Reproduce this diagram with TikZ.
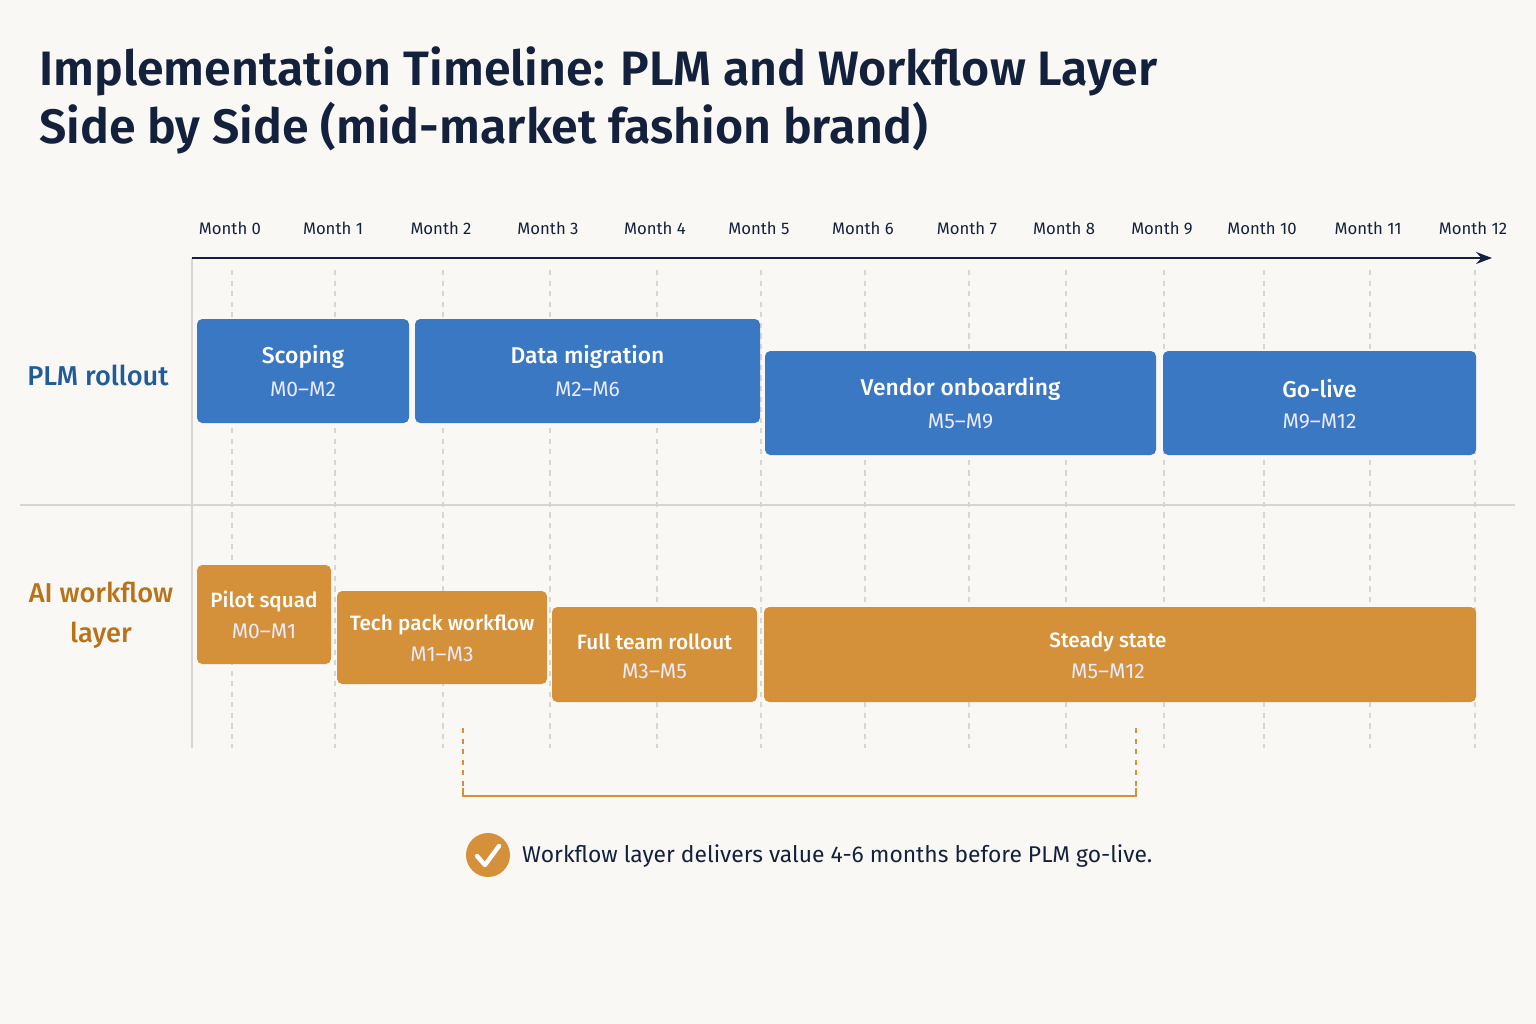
\documentclass[tikz,border=0pt]{standalone}
\usepackage{fontspec}
\setmainfont{Fira Sans}[BoldFont={Fira Sans Medium}]
\newfontfamily\titlefont{Fira Sans SemiBold}
\usetikzlibrary{arrows.meta}
\definecolor{bg}{HTML}{FAF8F4}
\definecolor{navy}{HTML}{14213D}
\definecolor{blu}{HTML}{3A78C4}
\definecolor{blulab}{HTML}{1F5C99}
\definecolor{org}{HTML}{D4913A}
\definecolor{orglab}{HTML}{B8731A}
\definecolor{grid}{HTML}{D8D6D2}
\tikzset{
 x=0.02cm,y=-0.02cm,
 ttl/.style={text=white,font=\fontsize{13}{16}\selectfont\bfseries},
 ttlo/.style={text=white,font=\fontsize{11.8}{14}\selectfont\bfseries},
 sub/.style={text=white!92!blue,font=\fontsize{12}{14}\selectfont},
 mon/.style={font=\fontsize{9.5}{11}\selectfont,text=navy},
}
\begin{document}
\begin{tikzpicture}
\fill[bg] (0,0) rectangle (1536,1024);
\useasboundingbox (0,0) rectangle (1536,1024);
\node[anchor=north west,align=left,text=navy,font=\fontsize{27.5}{33.5}\selectfont\titlefont] (title) at (33,40) {Implementation Timeline: PLM and Workflow Layer\\Side by Side (mid-market fashion brand)};
\foreach \x/\n in {230/0,333/1,441/2,548/3,655/4,759/5,863/6,967/7,1064/8,1162/9,1262/10,1368/11,1473/12}{
 \node[mon] (m\n) at (\x,228) {Month \n};
 \draw[grid,dashed,line width=0.6pt] (\x+2,270) -- (\x+2,748);
}
\draw[grid,line width=0.8pt] (192,258) -- (192,748);
\draw[grid,line width=0.8pt] (20,505) -- (1515,505);
\draw[navy,line width=1.2pt,-{Stealth[length=9pt]}] (192,258) -- (1492,258);
\node[text=blulab,font=\fontsize{15.5}{19}\selectfont\bfseries] (plm) at (98,375) {PLM rollout};
\node[text=orglab,font=\fontsize{15.5}{23}\selectfont\bfseries,align=center] (ai) at (101,615) {AI workflow\\layer};
\foreach \a/\b/\c/\d/\t/\s/\nm in {197/409/319/423/Scoping/M0–M2/p1,415/760/319/423/Data migration/M2–M6/p2,765/1156/351/455/Vendor onboarding/M5–M9/p3,1163/1476/351/455/Go-live/M9–M12/p4}{
 \fill[blu,rounded corners=3pt] (\a,\c) rectangle (\b,\d);
 \node[ttl] (\nm t) at ({(\a+\b)/2},{(\c+\d)/2-14}) {\t};
 \node[sub] (\nm s) at ({(\a+\b)/2},{(\c+\d)/2+18}) {\s};
}
\foreach \a/\b/\c/\d/\t/\s/\nm in {197/331/565/664/Pilot squad/M0–M1/a1,337/547/591/684/Tech pack workflow/M1–M3/a2,552/757/607/702/Full team rollout/M3–M5/a3,764/1452/607/702/Steady state/M5–M12/a4}{
 \fill[org,rounded corners=3pt] (\a,\c) rectangle (\b,\d);
 \node[ttlo] (\nm t) at ({(\a+\b)/2},{(\c+\d)/2-13}) {\t};
 \node[sub] (\nm s) at ({(\a+\b)/2},{(\c+\d)/2+17}) {\s};
}
\fill[org,rounded corners=3pt] (1440,607) rectangle (1476,702);
\coordinate (bl) at (463,796); \coordinate (br) at (1136,796);
\draw[org,dashed,line width=1.2pt] (463,728) -- (463,790);
\draw[org,dashed,line width=1.2pt] (1136,728) -- (1136,790);
\draw[org,line width=1.3pt] (463,788) -- (bl) -- (br) -- (1136,788);
\node[circle,fill=org,minimum size=0.88cm,inner sep=0pt] (chk) at (488,855) {};
\draw[white,line width=2.5pt,line cap=round,line join=round] (477,856) -- (485,865) -- (499,846);
\node[anchor=west,text=navy,font=\fontsize{13}{16}\selectfont] (note) at (516,856) {Workflow layer delivers value 4-6 months before PLM go-live.};
\end{tikzpicture}
\end{document}
